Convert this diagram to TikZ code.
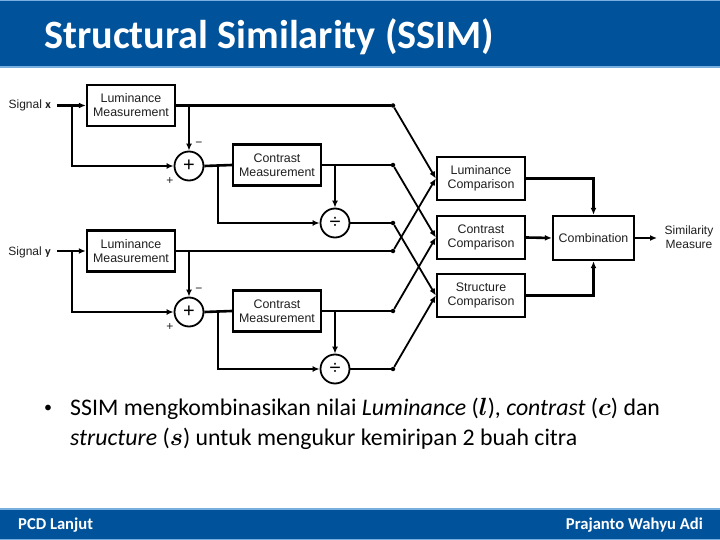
\documentclass[tikz,border=0pt]{standalone}
\usepackage{amsmath}
\usepackage{fontspec}
\setmainfont{Carlito}
\newfontfamily\diag{Liberation Sans}
\usetikzlibrary{arrows.meta}
\definecolor{barblue}{RGB}{0,83,155}
\definecolor{barline}{RGB}{120,175,225}
\definecolor{diagtext}{RGB}{30,30,30}
\begin{document}
\begin{tikzpicture}[x=1pt,y=-1pt,
  box/.style={draw,line width=2.4pt,minimum width=88pt,minimum height=41pt,inner sep=0pt,align=center,text=diagtext,font=\diag\fontsize{12.4}{14}\selectfont},
  cbox/.style={box,minimum height=43pt},
  opcirc/.style={draw,circle,line width=1.8pt,minimum size=29pt,inner sep=0pt,font=\diag\fontsize{20}{20}\selectfont},
  wire/.style={line width=2.6pt},
  slant/.style={line width=1.8pt},
  arr/.style={-{Latex[length=7pt,width=6pt]}},
  jdot/.style={circle,fill,inner sep=0pt,minimum size=4.5pt},
  lbl/.style={font=\diag\fontsize{12}{14}\selectfont,text=diagtext,align=center},
  sgn/.style={font=\diag\fontsize{12}{12}\selectfont,text=diagtext},
  slidetext/.style={anchor=base west,inner sep=0pt,font=\fontsize{23.8}{26}\selectfont},
  foottext/.style={text=white,inner sep=0pt,font=\bfseries\fontsize{16.6}{18}\selectfont}
]
\useasboundingbox (0,0) rectangle (720,540);
% bars
\fill[barblue] (0,0) rectangle (720,67);
\draw[barline,line width=1.2pt] (0,0.6) -- (720,0.6);
\draw[barline,line width=1.2pt] (0,67) -- (720,67);
\fill[barblue] (0,509) rectangle (720,540);
\draw[barline,line width=1.2pt] (0,509) -- (720,509);
\draw[barline,line width=1.2pt] (0,539.4) -- (720,539.4);
\node[anchor=base west,text=white,font=\bfseries\fontsize{40.2}{42}\selectfont,inner sep=0pt] (title) at (44,49) {Structural Similarity (SSIM)};
\node[foottext,anchor=base west] (foot1) at (18,529) {PCD Lanjut};
\node[foottext,anchor=base east] (foot2) at (703,529) {Prajanto Wahyu Adi};
% bullet text
\node[slidetext,font=\fontsize{16}{18}\selectfont] (bul) at (44,412) {•};
\node[slidetext] (line1) at (70,415) {SSIM mengkombinasikan nilai \textit{Luminance} ($\boldsymbol{l}$), \textit{contrast} ($\boldsymbol{c}$) dan};
\node[slidetext] (line2) at (70,445) {\textit{structure} ($\boldsymbol{s}$) untuk mengukur kemiripan 2 buah citra};

% ---- diagram ----
\node[lbl,anchor=east,inner sep=0pt] (sigx) at (51,105) {Signal $\mathbf{x}$};
\node[lbl,anchor=east,inner sep=0pt] (sigy) at (51,252) {Signal $\mathbf{y}$};
\node[box] (lmx) at (131,105.5) {Luminance\\Measurement};
\node[box] (lmy) at (131,251) {Luminance\\Measurement};
\node[opcirc] (plx) at (189,166) {+};
\node[opcirc] (ply) at (189,312) {+};
\node[box] (cmx) at (277,165) {Contrast\\Measurement};
\node[box] (cmy) at (277,311) {Contrast\\Measurement};
\node[opcirc] (dvx) at (335,223) {÷};
\node[opcirc] (dvy) at (335,369) {÷};
\node[cbox] (lc) at (481,178.5) {Luminance\\Comparison};
\node[cbox] (cc) at (481,237.5) {Contrast\\Comparison};
\node[cbox] (sc) at (481,295.5) {Structure\\Comparison};
\node[box,minimum width=81pt,minimum height=44pt] (comb) at (593.5,238) {Combination};
\node[lbl] (out) at (689,237) {Similarity\\Measure};
\node[sgn] (mx) at (199,144) {\textminus};
\node[sgn] (px) at (170,181) {+};
\node[sgn] (my) at (199,290) {\textminus};
\node[sgn] (py) at (170,327) {+};

\node[jdot] (jx1) at (393,105.5) {};
\node[jdot] (jx2) at (393,165) {};
\node[jdot] (jx3) at (393,223) {};
\node[jdot] (jy1) at (393,251) {};
\node[jdot] (jy2) at (393,311) {};
\node[jdot] (jy3) at (393,369) {};

\coordinate (sx0) at (57,105.5);
\coordinate (sy0) at (57,251);
\coordinate (bx) at (72,105.5);
\coordinate (by) at (72,251);
\coordinate (cbx) at (218,166);
\coordinate (cby) at (218,312);
\coordinate (outend) at (657,238);

\foreach \s/\b/\lm/\pl/\cm/\dv/\cb/\ja/\jb/\jc in {sx0/bx/lmx/plx/cmx/dvx/cbx/jx1/jx2/jx3, sy0/by/lmy/ply/cmy/dvy/cby/jy1/jy2/jy3}{
  \draw[wire,arr] (\s) -- (\lm.west);
  \draw[wire,arr] (\b) |- (\pl.west);
  \draw[wire] (\lm.east) -- (\ja);
  \draw[wire,arr] (\pl.north |- \lm.east) -- (\pl.north);
  \draw[wire] (\pl.east) -- (\cm.west);
  \draw[wire,arr] (\cb) |- (\dv.west);
  \draw[wire] (\cm.east) -- (\jb);
  \draw[wire,arr] (\dv.north |- \cm.east) -- (\dv.north);
  \draw[wire] (\dv.east) -- (\jc);
}
\draw[slant,arr] (jx1) -- (lc.west);
\draw[slant,arr] (jy1) -- (lc.west);
\draw[slant,arr] (jx2) -- (cc.west);
\draw[slant,arr] (jy2) -- (cc.west);
\draw[slant,arr] (jx3) -- (sc.west);
\draw[slant,arr] (jy3) -- (sc.west);
\draw[wire,arr] (lc.east) -| (comb.north);
\draw[wire,arr] (cc.east) -- (comb.west);
\draw[wire,arr] (sc.east) -| (comb.south);
\draw[wire,arr] (comb.east) -- (outend);
\end{tikzpicture}
\end{document}
